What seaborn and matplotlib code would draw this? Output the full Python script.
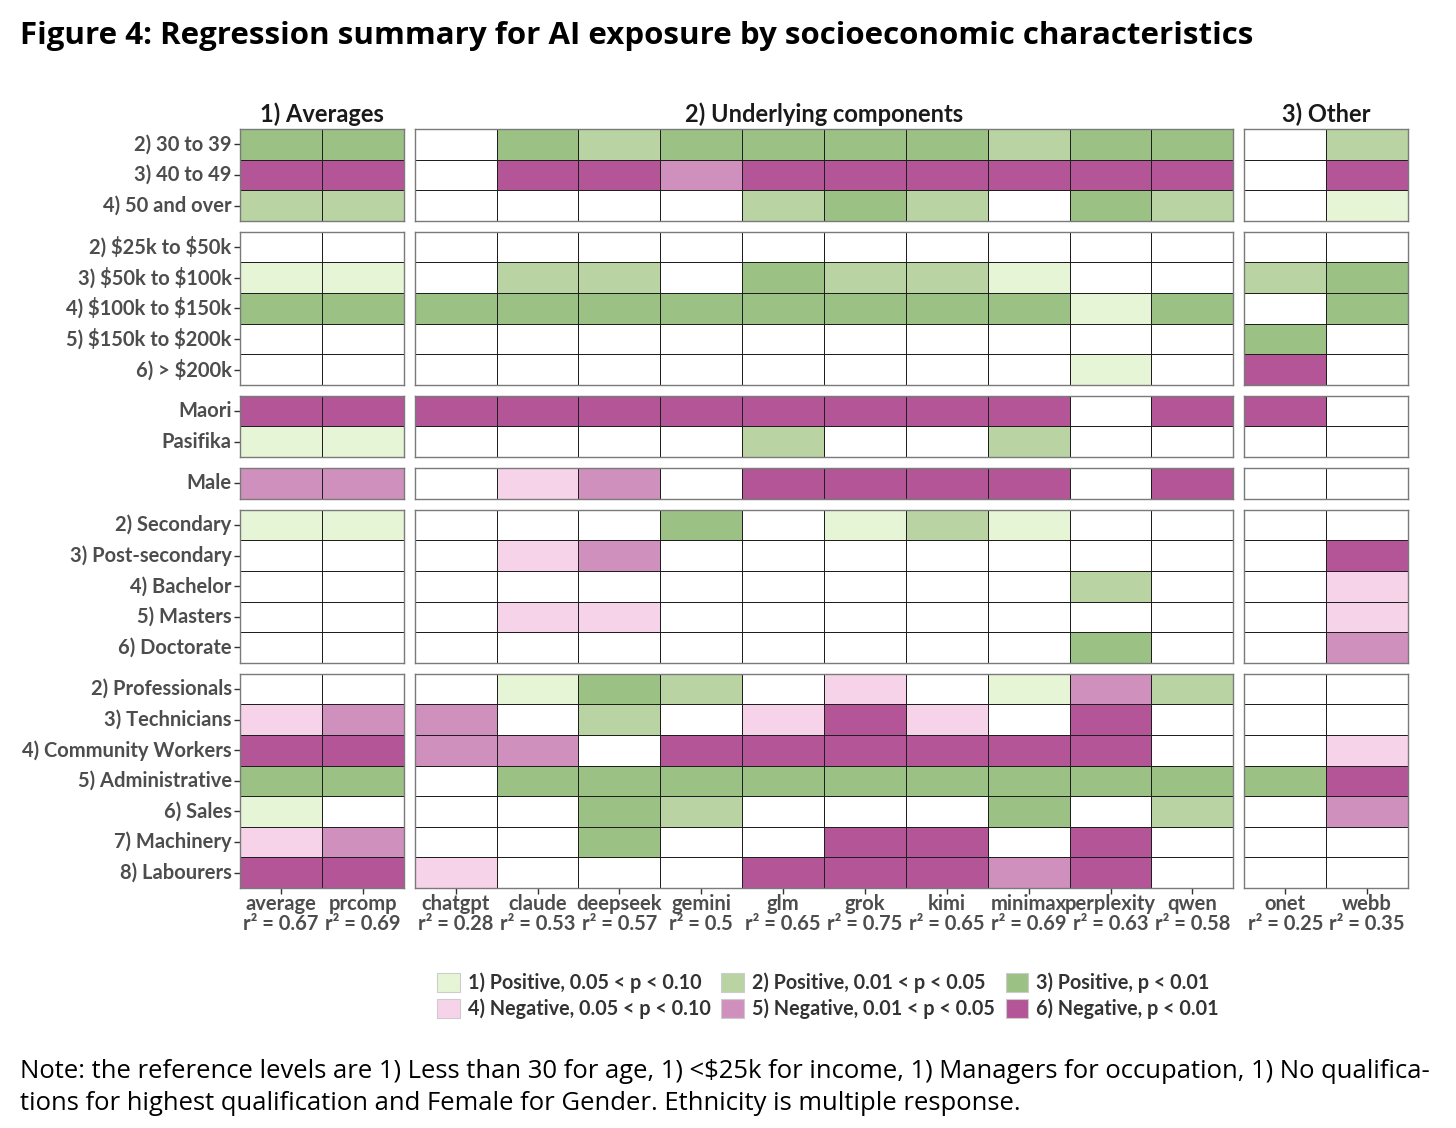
import numpy as np
import pandas as pd
import matplotlib
matplotlib.use("Agg")
import matplotlib.pyplot as plt
import seaborn as sns
from matplotlib.colors import ListedColormap
from matplotlib.patches import Patch

# ---------------- data ----------------
facets = ["1) Averages", "2) Underlying components", "3) Other"]
avg_models = ["average", "prcomp"]
comp_models = ["chatgpt", "claude", "deepseek", "gemini", "glm", "grok",
               "kimi", "minimax", "perplexity", "qwen"]
other_models = ["onet", "webb"]
r2_values = [0.67, 0.69, 0.28, 0.53, 0.57, 0.5, 0.65, 0.75, 0.65, 0.69,
             0.63, 0.58, 0.25, 0.35]

age_rows = ["2) 30 to 39", "3) 40 to 49", "4) 50 and over"]
income_rows = ["2) $25k to $50k", "3) $50k to $100k", "4) $100k to $150k",
               "5) $150k to $200k", "6) > $200k"]
ethnicity_rows = ["Maori", "Pasifika"]
gender_rows = ["Male"]
qual_rows = ["2) Secondary", "3) Post-secondary", "4) Bachelor",
             "5) Masters", "6) Doctorate"]
occ_rows = ["2) Professionals", "3) Technicians", "4) Community Workers",
            "5) Administrative", "6) Sales", "7) Machinery", "8) Labourers"]

# significance code: 0 = not significant, 1..6 = legend levels
age_codes = [
    [3, 3, 0, 3, 2, 3, 3, 3, 3, 2, 3, 3, 0, 2],
    [6, 6, 0, 6, 6, 5, 6, 6, 6, 6, 6, 6, 0, 6],
    [2, 2, 0, 0, 0, 0, 2, 3, 2, 0, 3, 2, 0, 1],
]
income_codes = [
    [0, 0, 0, 0, 0, 0, 0, 0, 0, 0, 0, 0, 0, 0],
    [1, 1, 0, 2, 2, 0, 3, 2, 2, 1, 0, 0, 2, 3],
    [3, 3, 3, 3, 3, 3, 3, 3, 3, 3, 1, 3, 0, 3],
    [0, 0, 0, 0, 0, 0, 0, 0, 0, 0, 0, 0, 3, 0],
    [0, 0, 0, 0, 0, 0, 0, 0, 0, 0, 1, 0, 6, 0],
]
ethnicity_codes = [
    [6, 6, 6, 6, 6, 6, 6, 6, 6, 6, 0, 6, 6, 0],
    [1, 1, 0, 0, 0, 0, 2, 0, 0, 2, 0, 0, 0, 0],
]
gender_codes = [
    [5, 5, 0, 4, 5, 0, 6, 6, 6, 6, 0, 6, 0, 0],
]
qual_codes = [
    [1, 1, 0, 0, 0, 3, 0, 1, 2, 1, 0, 0, 0, 0],
    [0, 0, 0, 4, 5, 0, 0, 0, 0, 0, 0, 0, 0, 6],
    [0, 0, 0, 0, 0, 0, 0, 0, 0, 0, 2, 0, 0, 4],
    [0, 0, 0, 4, 4, 0, 0, 0, 0, 0, 0, 0, 0, 4],
    [0, 0, 0, 0, 0, 0, 0, 0, 0, 0, 3, 0, 0, 5],
]
occ_codes = [
    [0, 0, 0, 1, 3, 2, 0, 4, 0, 1, 5, 2, 0, 0],
    [4, 5, 5, 0, 2, 0, 4, 6, 4, 0, 6, 0, 0, 0],
    [6, 6, 5, 5, 0, 6, 6, 6, 6, 6, 6, 0, 0, 4],
    [3, 3, 0, 3, 3, 3, 3, 3, 3, 3, 3, 3, 3, 6],
    [1, 0, 0, 0, 3, 2, 0, 0, 0, 3, 0, 2, 0, 5],
    [4, 5, 0, 0, 3, 0, 0, 6, 6, 0, 6, 0, 0, 0],
    [6, 6, 4, 0, 0, 0, 6, 6, 6, 5, 6, 0, 0, 0],
]

level_labels = ["1) Positive, 0.05 < p < 0.10", "2) Positive, 0.01 < p < 0.05",
                "3) Positive, p < 0.01", "4) Negative, 0.05 < p < 0.10",
                "5) Negative, 0.01 < p < 0.05", "6) Negative, p < 0.01"]
level_colors = ["#e6f5d6", "#b9d4a2", "#9bc184", "#f7d3e9", "#d090bd", "#b35597"]

title = "Figure 4: Regression summary for AI exposure by socioeconomic characteristics"
note_lines = [
    "Note: the reference levels are 1) Less than 30 for age, 1) <$25k for income, 1) Managers for occupation, 1) No qualifica-",
    "tions for highest qualification and Female for Gender. Ethnicity is multiple response.",
]

# ---------------- styling ----------------
sns.set_theme(style="white")
plt.rcParams["font.family"] = ["Lato", "DejaVu Sans"]
plt.rcParams["text.parse_math"] = False

all_models = avg_models + comp_models + other_models
facet_models = [avg_models, comp_models, other_models]
group_rows = [age_rows, income_rows, ethnicity_rows, gender_rows, qual_rows, occ_rows]
group_codes = [age_codes, income_codes, ethnicity_codes, gender_codes, qual_codes, occ_codes]
xlabels = {m: f"{m}\nr\u00b2 = {r:g}" for m, r in zip(all_models, r2_values)}

cmap = ListedColormap(["#ffffff"] + level_colors)

W, H = 1456, 1128
fig = plt.figure(figsize=(W / 100, H / 100), dpi=100)

# layout (pixels)
x0, x1 = 240, 1408
y0, y1 = 129, 888
gap = 11
ncols = len(all_models)
nrows = sum(len(r) for r in group_rows)
cw = (x1 - x0 - gap * (len(facet_models) - 1)) / ncols
rh = (y1 - y0 - gap * (len(group_rows) - 1)) / nrows

tick_color = "#4d4d4d"
tick_fs = 14.5

ytop = y0
for gi, (rows, codes) in enumerate(zip(group_rows, group_codes)):
    df = pd.DataFrame(codes, index=rows, columns=all_models)
    gh = rh * len(rows)
    xl = x0
    for fi, models in enumerate(facet_models):
        fw = cw * len(models)
        ax = fig.add_axes([xl / W, 1 - (ytop + gh) / H, fw / W, gh / H])
        sub = df[models]
        sns.heatmap(sub, ax=ax, cmap=cmap, vmin=-0.5, vmax=6.5, cbar=False,
                    linewidths=0.55, linecolor="#1f1f1f",
                    xticklabels=True, yticklabels=True)
        for s in ax.spines.values():
            s.set_visible(True)
            s.set_color("#7a7a7a")
            s.set_linewidth(1.0)
        ax.set_xlabel("")
        ax.set_ylabel("")
        if fi == 0:
            ax.set_yticklabels(rows, rotation=0, fontsize=tick_fs,
                               color=tick_color, fontweight="bold")
            ax.tick_params(axis="y", left=True, length=4, width=1,
                           color="#333333", pad=2)
        else:
            ax.set_yticks([])
        if gi == len(group_rows) - 1:
            ax.set_xticklabels([xlabels[m] for m in models], rotation=0,
                               fontsize=tick_fs, color=tick_color,
                               fontweight="bold", linespacing=1.0)
            ax.tick_params(axis="x", bottom=True, length=4, width=1,
                           color="#333333", pad=0.5)
        else:
            ax.set_xticks([])
        if gi == 0:
            ax.set_title(facets[fi], fontsize=17, fontweight="bold",
                         color="#1a1a1a", pad=5)
        xl += fw + gap
    ytop += gh + gap

# legend
handles = [Patch(facecolor=c, edgecolor="#cccccc", linewidth=0.8) for c in level_colors]
order = [0, 3, 1, 4, 2, 5]
leg = fig.legend([handles[i] for i in order], [level_labels[i] for i in order],
                 ncol=3, loc="center", bbox_to_anchor=(828 / W, 1 - 996 / H),
                 frameon=False, handlelength=1.15, handleheight=1.15,
                 handletextpad=0.4, columnspacing=0.55, labelspacing=0.28,
                 prop={"size": 14.2, "weight": "bold"})
for t in leg.get_texts():
    t.set_color("#333333")

fig.text(20 / W, 1 - 36 / H, title, fontsize=22.5, fontweight="bold",
         family=["Open Sans", "DejaVu Sans"], va="center", ha="left", color="black")
fig.text(20 / W, 1 - 1071 / H, note_lines[0], fontsize=18.45,
         family=["Open Sans", "DejaVu Sans"], va="center", ha="left", color="black")
fig.text(20 / W, 1 - 1104 / H, note_lines[1], fontsize=18.45,
         family=["Open Sans", "DejaVu Sans"], va="center", ha="left", color="black")

fig.savefig("out.png", dpi=100)
